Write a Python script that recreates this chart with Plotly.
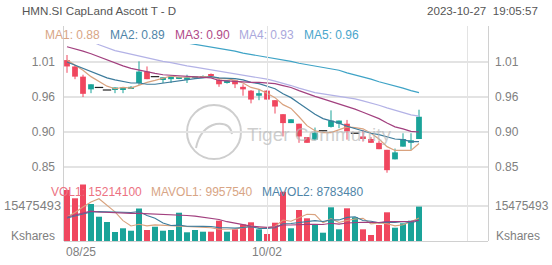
import plotly.graph_objects as go

# ---------------- data ----------------
dates = ["08/25","08/28","08/29","08/30","08/31","09/04","09/05","09/06","09/07","09/08",
         "09/11","09/12","09/13","09/14","09/15","09/18","09/19","09/20","09/21","09/22",
         "09/25","09/26","09/27","09/28","09/29","10/02","10/03","10/04","10/05","10/06",
         "10/09","10/10","10/11","10/12","10/13","10/16","10/17","10/18","10/19","10/20",
         "10/23","10/24","10/25","10/26","10/27"]
open_ = [1.016,1.006,0.990,0.970,0.973,0.969,0.970,0.970,0.972,0.980,
         0.998,0.990,0.986,0.986,0.987,0.985,0.988,0.989,0.993,0.985,
         0.980,0.984,0.974,0.968,0.960,0.968,0.953,0.931,0.917,0.916,
         0.895,0.891,0.905,0.911,0.916,0.916,0.901,0.896,0.892,0.886,
         0.875,0.860,0.880,0.886,0.892]
high_ = [1.024,1.008,0.993,0.978,0.973,0.969,0.973,0.973,0.975,1.014,
         1.006,0.990,0.989,0.990,0.990,0.993,0.991,0.992,0.995,0.988,
         0.984,0.985,0.978,0.969,0.970,0.969,0.953,0.931,0.923,0.916,
         0.895,0.910,0.905,0.937,0.921,0.922,0.901,0.906,0.895,0.889,
         0.875,0.877,0.901,0.901,0.938]
low_ = [0.996,0.986,0.958,0.964,0.973,0.969,0.964,0.964,0.971,0.977,
        0.986,0.990,0.980,0.980,0.986,0.980,0.987,0.988,0.989,0.974,
        0.979,0.972,0.960,0.948,0.953,0.954,0.932,0.896,0.917,0.886,
        0.886,0.890,0.905,0.910,0.909,0.891,0.901,0.888,0.886,0.876,
        0.839,0.860,0.880,0.875,0.892]
close_ = [1.006,0.990,0.963,0.978,0.973,0.969,0.973,0.973,0.974,0.998,
          0.986,0.990,0.989,0.990,0.989,0.989,0.990,0.991,0.991,0.978,
          0.984,0.978,0.970,0.954,0.964,0.954,0.943,0.917,0.923,0.896,
          0.886,0.902,0.905,0.921,0.921,0.904,0.901,0.892,0.886,0.876,
          0.843,0.871,0.892,0.890,0.927]
volume = [22.55,18.88,24.98,16.36,10.74,8.40,3.98,5.62,4.55,14.37,
          4.86,6.32,4.55,4.86,12.51,3.85,4.86,4.11,4.11,8.98,
          4.11,5.17,7.30,8.27,5.17,3.10,8.09,21.80,5.62,13.71,
          10.04,7.07,3.67,14.90,5.17,14.46,10.48,5.17,2.65,7.07,
          12.69,5.88,7.83,8.98,15.21]  # millions of shares
ma1 = [1.016,1.008,1.000,0.990,0.982,0.975,0.971,0.973,0.972,0.977,
       0.981,0.984,0.987,0.991,0.989,0.989,0.989,0.990,0.990,0.987,
       0.987,0.984,0.980,0.973,0.970,0.964,0.957,0.946,0.940,0.927,
       0.913,0.905,0.902,0.902,0.907,0.911,0.910,0.908,0.901,0.892,
       0.880,0.874,0.874,0.874,0.885]
ma2 = [1.013,1.008,1.002,0.997,0.992,0.988,0.985,0.982,0.980,0.980,
       0.978,0.978,0.980,0.981,0.983,0.985,0.987,0.988,0.990,0.988,
       0.988,0.987,0.985,0.981,0.979,0.975,0.971,0.963,0.957,0.948,
       0.939,0.931,0.924,0.921,0.917,0.912,0.908,0.905,0.901,0.899,
       0.895,0.892,0.891,0.888,0.888]
ma3 = [1.037,1.034,1.030,1.026,1.021,1.016,1.011,1.007,1.003,1.000,
       0.997,0.995,0.993,0.992,0.991,0.990,0.989,0.989,0.988,0.984,
       0.983,0.982,0.982,0.981,0.981,0.980,0.979,0.976,0.973,0.968,
       0.963,0.959,0.955,0.951,0.948,0.944,0.939,0.934,0.929,0.924,
       0.917,0.911,0.908,0.904,0.903]
ma4 = [1.062,1.057,1.052,1.046,1.040,1.035,1.031,1.028,1.025,1.022,
       1.019,1.017,1.014,1.012,1.009,1.007,1.005,1.003,1.001,0.999,
       0.997,0.995,0.993,0.991,0.988,0.986,0.983,0.980,0.976,0.972,
       0.968,0.965,0.963,0.961,0.960,0.957,0.955,0.952,0.949,0.945,
       0.941,0.937,0.933,0.930,0.928]
ma5 = [1.085,1.082,1.079,1.076,1.073,1.070,1.067,1.064,1.061,1.058,
       1.055,1.052,1.049,1.047,1.045,1.043,1.041,1.039,1.036,1.034,
       1.032,1.030,1.027,1.025,1.023,1.021,1.018,1.016,1.014,1.011,
       1.009,1.007,1.005,1.002,1.000,0.996,0.993,0.989,0.986,0.982,
       0.979,0.975,0.972,0.968,0.965]
mavol1 = [10.6,12.6,15.0,17.2,18.70,15.87,12.89,9.02,6.66,7.38,
          6.68,7.14,6.93,6.99,6.62,6.42,6.13,6.04,5.89,5.18,
          5.23,5.30,5.93,6.77,6.00,5.80,6.39,9.29,8.76,10.46,
          11.85,11.65,8.02,9.88,8.17,9.05,9.74,10.04,7.59,7.97,
          7.61,6.69,7.22,8.49,10.12]
mavol2 = [10.2,11.0,12.0,12.8,13.0,12.9,12.7,12.6,12.6,13.04,
          11.27,10.02,7.98,6.83,7.00,6.55,6.64,6.48,6.44,5.90,
          5.83,5.71,5.99,6.33,5.59,5.52,5.84,7.61,7.76,8.23,
          8.83,9.02,8.65,9.32,9.32,10.45,10.69,9.03,8.73,8.07,
          8.33,8.21,8.63,8.04,9.04]
mavol3 = [10.6,11.5,12.4,13.2,12.8,12.6,12.4,12.3,12.2,12.2,
          12.1,12.0,11.8,11.6,11.5,11.3,11.0,10.6,10.0,9.47,
          8.55,7.86,6.98,6.58,6.30,6.03,6.24,7.05,7.10,7.07,
          7.33,7.36,7.32,7.82,7.46,7.99,8.27,8.32,8.25,8.15,
          8.58,8.62,8.64,8.68,9.18]

price_tickvals = [0.848, 0.903, 0.958, 1.013]
price_ticktext = ["0.85", "0.90", "0.96", "1.01"]
vol_tick = 15475493
x_labels = ["08/25", "10/02"]
title_text = "HMN.SI CapLand Ascott T - D"
time_text = "2023-10-27\u00a0\u00a019:05:57"
ma_names = ["MA1", "MA2", "MA3", "MA4", "MA5"]
ma_last = ["0.88", "0.89", "0.90", "0.93", "0.96"]
vol_legend = ["VOL1: 15214100", "MAVOL1: 9957540", "MAVOL2: 8783480"]

# ---------------- styles ----------------
RED = "#f0475f"
GREEN = "#1aa399"
MA_COLORS = ["#d9a27e", "#3d7c9c", "#a2407f", "#b3b2e6", "#3ea3c6"]
MA_TEXT_COLORS = ["#d8a585", "#4f85a8", "#b04a88", "#aaa8dc", "#4aa6cc"]
VOL_TEXT = "#ec7282"
GRID = "#e3e3e3"
AX = "#d0d0d0"
TXT = "#808080"
WM = "rgba(185,185,185,0.7)"
FONT = "Liberation Sans, Arial, sans-serif"

W, H = 552, 265
L, R, T, B = 64, 64, 26, 24
PW, PH = W - L - R, H - T - B

def px(xp):
    return (xp - L) / PW

def py(yp):
    return (H - B - yp) / PH

n = len(dates)
idx = list(range(n))
is_doji = [abs(o - c) < 1e-9 for o, c in zip(open_, close_)]
up = [c >= o for o, c in zip(open_, close_)]

fig = go.Figure()

# watermark text (drawn under the data)
fig.add_annotation(text="Tiger Community", x=px(245), y=py(134), xref="paper", yref="paper",
                   xanchor="left", yanchor="middle", showarrow=False,
                   font=dict(family=FONT, size=19, color=WM))

# candle bodies
body_x, body_base, body_h, body_col = [], [], [], []
wick_x_up, wick_y_up, wick_x_dn, wick_y_dn = [], [], [], []
doji_x, doji_y = [], []
for i in idx:
    if is_doji[i]:
        doji_x.append(i)
        doji_y.append(open_[i])
        continue
    lo, hi = min(open_[i], close_[i]), max(open_[i], close_[i])
    body_x.append(i)
    body_base.append(lo)
    body_h.append(max(hi - lo, 0.0016))
    body_col.append(GREEN if up[i] else RED)
    if up[i]:
        wick_x_up += [i, i, None]
        wick_y_up += [low_[i], high_[i], None]
    else:
        wick_x_dn += [i, i, None]
        wick_y_dn += [low_[i], high_[i], None]

fig.add_trace(go.Scatter(x=wick_x_up, y=wick_y_up, mode="lines",
                         line=dict(color=GREEN, width=1), yaxis="y", hoverinfo="skip"))
fig.add_trace(go.Scatter(x=wick_x_dn, y=wick_y_dn, mode="lines",
                         line=dict(color=RED, width=1), yaxis="y", hoverinfo="skip"))
fig.add_trace(go.Bar(x=body_x, y=body_h, base=body_base, width=0.72,
                     marker=dict(color=body_col, line=dict(width=0)), yaxis="y"))
fig.add_trace(go.Scatter(x=doji_x, y=doji_y, mode="markers",
                         marker=dict(symbol="line-ew", size=6, line=dict(color="#222", width=1.2)),
                         yaxis="y", hoverinfo="skip"))

for ma, col in zip([ma1, ma2, ma3, ma4, ma5], MA_COLORS):
    fig.add_trace(go.Scatter(x=idx, y=ma, mode="lines", line=dict(color=col, width=1.2),
                             yaxis="y", hoverinfo="skip"))

# volume
vol_col = [GREEN if (up[i] or is_doji[i]) else RED for i in idx]
fig.add_trace(go.Bar(x=idx, y=[v * 1e6 for v in volume], width=0.75,
                     marker=dict(color=vol_col, line=dict(width=0)), yaxis="y2"))
for mv, col in zip([mavol1, mavol2, mavol3], [MA_COLORS[0], MA_COLORS[1], MA_COLORS[2]]):
    fig.add_trace(go.Scatter(x=idx, y=[v * 1e6 for v in mv], mode="lines",
                             line=dict(color=col, width=1.1), yaxis="y2", hoverinfo="skip"))

# helper traces for frame axis & right axes
fig.add_trace(go.Scatter(x=[0], y=[0.5], mode="markers", marker=dict(opacity=0, size=1),
                         yaxis="y3", hoverinfo="skip"))
fig.add_trace(go.Scatter(x=[0], y=[0.9], mode="markers", marker=dict(opacity=0, size=1),
                         yaxis="y4", hoverinfo="skip"))
fig.add_trace(go.Scatter(x=[0], y=[1], mode="markers", marker=dict(opacity=0, size=1),
                         yaxis="y5", hoverinfo="skip"))

p_lo = 0.903 - (176 - 132) * 0.055 / 35
p_hi = 0.903 + (132 - 44) * 0.055 / 35
v_hi = vol_tick * (241 - 180) / 35
price_dom = [py(176), py(44)]
vol_dom = [0, py(180)]

tickfont = dict(family=FONT, size=12, color=TXT)
fig.update_layout(
    width=W, height=H, margin=dict(l=L, r=R, t=T, b=B, pad=0, autoexpand=False),
    paper_bgcolor="white", plot_bgcolor="rgba(0,0,0,0)",
    showlegend=False, barmode="overlay",
    xaxis=dict(range=[-0.375, 52.625], tickvals=[25, 50], ticktext=[x_labels[1], ""],
               showgrid=True, gridcolor=GRID, gridwidth=1, zeroline=False,
               showline=True, linecolor=AX, linewidth=1, ticks="", anchor="y2",
               tickfont=tickfont, automargin=False),
    yaxis=dict(domain=price_dom, range=[p_lo, p_hi], tickvals=price_tickvals,
               ticktext=price_ticktext, showgrid=True, gridcolor=GRID, gridwidth=1.5,
               zeroline=False, showline=False, ticks="", tickfont=tickfont,
               ticklabelstandoff=8, automargin=False),
    yaxis2=dict(domain=vol_dom, range=[0, v_hi], tickvals=[vol_tick], ticktext=[str(vol_tick)],
                showgrid=True, gridcolor=GRID, gridwidth=1.5, zeroline=False,
                showline=False, ticks="", tickfont=dict(family=FONT, size=12.8, color=TXT),
                ticklabelstandoff=2, automargin=False),
    yaxis3=dict(domain=[0, 1], range=[0, 1], showgrid=False, zeroline=False,
                showticklabels=False, showline=True, linecolor=AX, linewidth=1,
                mirror=True, ticks="", automargin=False),
    yaxis4=dict(overlaying="y", side="right", range=[p_lo, p_hi], tickvals=price_tickvals,
                ticktext=price_ticktext, showgrid=False, zeroline=False, ticks="",
                tickfont=tickfont, ticklabelstandoff=6, automargin=False),
    yaxis5=dict(overlaying="y2", side="right", range=[0, v_hi], tickvals=[vol_tick],
                ticktext=[str(vol_tick)], showgrid=False, zeroline=False, ticks="",
                tickfont=tickfont, ticklabelstandoff=6, automargin=False),
)

hdr = dict(family=FONT, size=11.6, color="#555")
fig.add_annotation(text=title_text, x=px(20), y=py(10), xref="paper", yref="paper",
                   xanchor="left", yanchor="middle", showarrow=False, font=hdr)
fig.add_annotation(text=time_text, x=px(540), y=py(10), xref="paper", yref="paper",
                   xanchor="right", yanchor="middle", showarrow=False, font=hdr)
ma_x = [43, 108, 173, 237, 302]
for name, val, col, xp in zip(ma_names, ma_last, MA_TEXT_COLORS, ma_x):
    fig.add_annotation(text=f"{name}: {val}", x=px(xp), y=py(35), xref="paper", yref="paper",
                       xanchor="left", yanchor="middle", showarrow=False,
                       font=dict(family=FONT, size=12, color=col))
vl_x = [49, 149, 260]
vl_col = [VOL_TEXT, MA_TEXT_COLORS[0], MA_TEXT_COLORS[1]]
for t, col, xp in zip(vol_legend, vl_col, vl_x):
    fig.add_annotation(text=t, x=px(xp), y=py(192), xref="paper", yref="paper",
                       xanchor="left", yanchor="middle", showarrow=False,
                       font=dict(family=FONT, size=12, color=col))
for xp, anc in [(L - 7, "right"), (W - R + 6, "left")]:
    fig.add_annotation(text="Kshares", x=px(xp), y=py(236), xref="paper", yref="paper",
                       xanchor=anc, yanchor="middle", showarrow=False, font=tickfont)
fig.add_annotation(text=x_labels[0], x=0, y=py(252), xref="paper", yref="paper",
                   xanchor="left", yanchor="middle", showarrow=False, font=tickfont)

# watermark logo
fig.add_shape(type="circle", xref="paper", yref="paper", layer="below",
              x0=px(187), x1=px(241), y0=py(159), y1=py(105),
              line=dict(color=WM, width=2))
fig.add_shape(type="path", xref="paper", yref="paper", layer="below",
              path=f"M {px(196)} {py(148)} Q {px(200)} {py(128)} {px(216)} {py(124)} "
                   f"Q {px(230)} {py(122)} {px(232)} {py(134)}",
              line=dict(color=WM, width=2))

fig.write_html("out.html")
